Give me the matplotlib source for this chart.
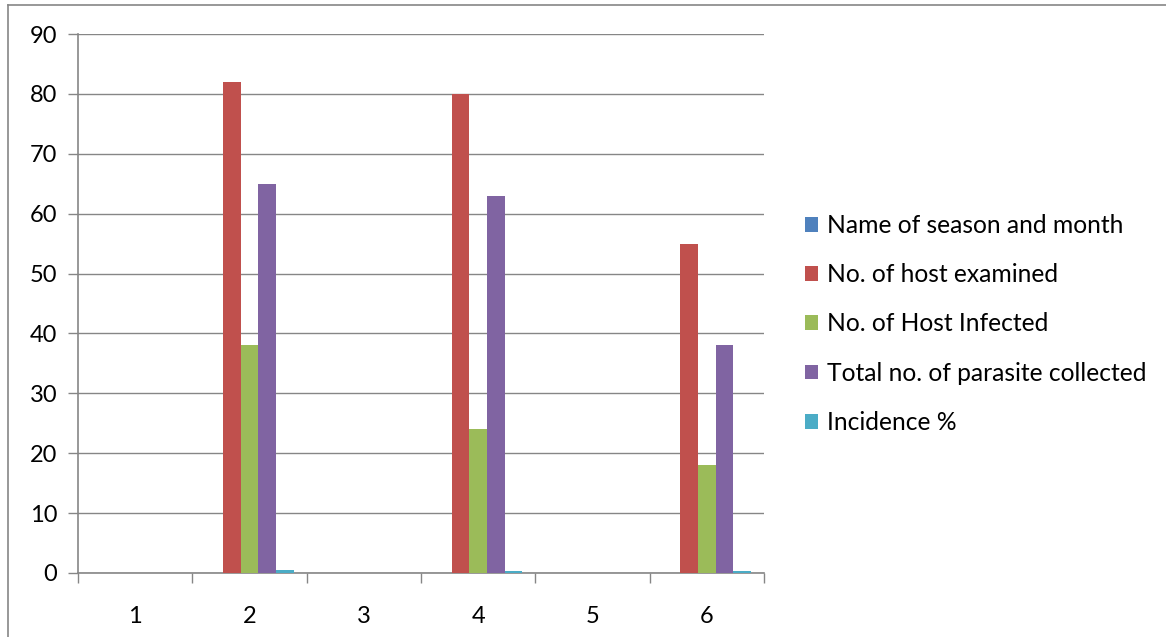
import numpy as np
import matplotlib.pyplot as plt
from matplotlib.lines import Line2D

plt.rcParams['font.family'] = ['Lato', 'DejaVu Sans']

categories = ['1', '2', '3', '4', '5', '6']
season_month = [0, 0, 0, 0, 0, 0]
host_examined = [0, 82, 0, 80, 0, 55]
host_infected = [0, 38, 0, 24, 0, 18]
parasite_total = [0, 65, 0, 63, 0, 38]
incidence = [0, 0.46, 0, 0.3, 0, 0.33]

series = [
    ('Name of season and month', season_month, '#4F81BD'),
    ('No. of host examined', host_examined, '#C0504D'),
    ('No. of Host Infected', host_infected, '#9BBB59'),
    ('Total no. of parasite collected', parasite_total, '#8064A2'),
    ('Incidence %', incidence, '#4BACC6'),
]

fig = plt.figure(figsize=(11.66, 6.37), dpi=100)
ax = fig.add_axes([0.0669, 0.1005, 0.5883, 0.8461])

x = np.arange(1, len(categories) + 1)
w = 0.154
for i, (name, vals, col) in enumerate(series):
    ax.bar(x + (i - 2) * w, vals, width=w, color=col, label=name, zorder=3)

grid_c = '#868686'
ax.set_xlim(0.5, 6.5)
ax.set_ylim(0, 90)
ax.set_yticks(range(0, 91, 10))
ax.yaxis.grid(True, color=grid_c, linewidth=1, zorder=0)
ax.set_xticks(x)
ax.set_xticklabels(categories)
ax.set_xticks(np.arange(0.5, 6.6, 1), minor=True)
ax.tick_params(axis='x', which='major', length=0, pad=24, labelsize=17)
ax.tick_params(axis='x', which='minor', length=7, color=grid_c, width=1)
ax.tick_params(axis='y', length=7, color=grid_c, width=1, pad=8, labelsize=17)

for side in ['top', 'right']:
    ax.spines[side].set_visible(False)
for side in ['left', 'bottom']:
    ax.spines[side].set_color(grid_c)
    ax.spines[side].set_linewidth(1.2)

ax.legend(loc='center left', bbox_to_anchor=(1.045, 0.462), frameon=False,
          fontsize=17.7, handlelength=0.55, handleheight=0.55, handletextpad=0.35,
          labelspacing=1.07, borderaxespad=0)

# outer chart border (top and left edges)
fig.add_artist(Line2D([0.007, 1.0], [0.992, 0.992], color=grid_c, lw=1.2))
fig.add_artist(Line2D([0.007, 0.007], [0.0, 0.992], color=grid_c, lw=1.2))

fig.savefig('out.png', dpi=100)
